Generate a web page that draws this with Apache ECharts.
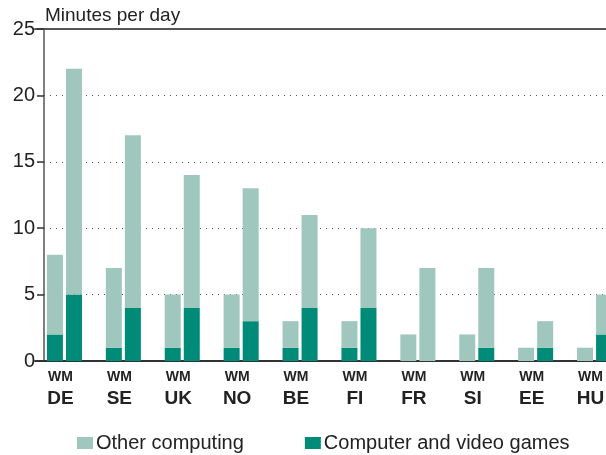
<!DOCTYPE html>
<html>
<head>
<meta charset="utf-8">
<script src="https://cdn.jsdelivr.net/npm/echarts@6/dist/echarts.min.js"></script>
<style>
  html, body { margin: 0; padding: 0; background: #fff; }
  #chart { width: 606px; height: 455px; }
</style>
</head>
<body>
<div id="chart"></div>
<script>
// Countries, each shown with a women (W) and men (M) bar
const countries = ['DE', 'SE', 'UK', 'NO', 'BE', 'FI', 'FR', 'SI', 'EE', 'HU'];

// Minutes per day, women
const womenGames = [2, 1, 1, 1, 1, 1, 0, 0, 0, 0];
const womenOther = [6, 6, 4, 4, 2, 2, 2, 2, 1, 1];

// Minutes per day, men
const menGames = [5, 4, 4, 3, 4, 4, 0, 1, 1, 2];
const menOther = [17, 13, 10, 10, 7, 6, 7, 6, 2, 3];

const yTicks = { min: 0, max: 25, interval: 5 };

const OTHER = 'Other computing';
const GAMES = 'Computer and video games';
const colOther = '#9fc7bd';
const colGames = '#008a78';
const font = 'Liberation Sans, Arial, sans-serif';

const chart = echarts.init(document.getElementById('chart'), null, { renderer: 'canvas' });

const barBase = { type: 'bar', barWidth: 16, barGap: '19%', silent: true };

chart.setOption({
  animation: false,
  textStyle: { fontFamily: font },
  // the plot runs past the right edge of the page, so the last bar is cut off
  grid: { left: 35, right: -18, top: 29, bottom: 94, containLabel: false, outerBoundsMode: 'none' },
  legend: {
    data: [OTHER, GAMES],
    left: 77, top: 433, padding: 0,
    itemWidth: 16, itemHeight: 12, itemGap: 61,
    icon: 'rect',
    textStyle: { fontFamily: font, fontSize: 20, color: '#222', padding: [0, 0, 0, -2] }
  },
  xAxis: [
    {
      type: 'category',
      data: countries,
      axisLine: { lineStyle: { color: '#333', width: 2 } },
      axisTick: { show: false },
      axisLabel: {
        margin: 6,
        interval: 0,
        padding: [0, 8, 0, 0],
        formatter: v => '{s|WM}\n{c|' + v + '}',
        rich: {
          s: { fontFamily: font, fontSize: 14, fontWeight: 'bold', color: '#222', lineHeight: 20 },
          c: { fontFamily: font, fontSize: 19, fontWeight: 'bold', color: '#222', lineHeight: 24 }
        }
      }
    },
    {
      type: 'category',
      position: 'top',
      data: countries,
      axisLine: { lineStyle: { color: '#555', width: 2 } },
      axisTick: { show: false },
      axisLabel: { show: false }
    }
  ],
  yAxis: {
    type: 'value',
    min: yTicks.min, max: yTicks.max, interval: yTicks.interval,
    offset: -9,
    name: 'Minutes per day',
    nameLocation: 'end',
    nameGap: 4,
    nameTextStyle: { fontFamily: font, fontSize: 19, color: '#222', align: 'left', padding: [0, 0, 0, 1] },
    axisLine: { show: true, lineStyle: { color: '#555', width: 1.5 } },
    axisTick: { show: true, length: 7, lineStyle: { color: '#333', width: 1.5 } },
    axisLabel: { fontFamily: font, fontSize: 20, color: '#222', margin: 9 },
    splitLine: { show: true, lineStyle: { color: '#555', type: [1, 5], dashOffset: 3, width: 1 } }
  },
  series: [
    Object.assign({}, barBase, { name: GAMES, stack: 'W', data: womenGames, itemStyle: { color: colGames } }),
    Object.assign({}, barBase, { name: GAMES, stack: 'M', data: menGames, itemStyle: { color: colGames } }),
    Object.assign({}, barBase, { name: OTHER, stack: 'W', data: womenOther, itemStyle: { color: colOther } }),
    Object.assign({}, barBase, { name: OTHER, stack: 'M', data: menOther, itemStyle: { color: colOther } })
  ]
});
</script>
</body>
</html>
